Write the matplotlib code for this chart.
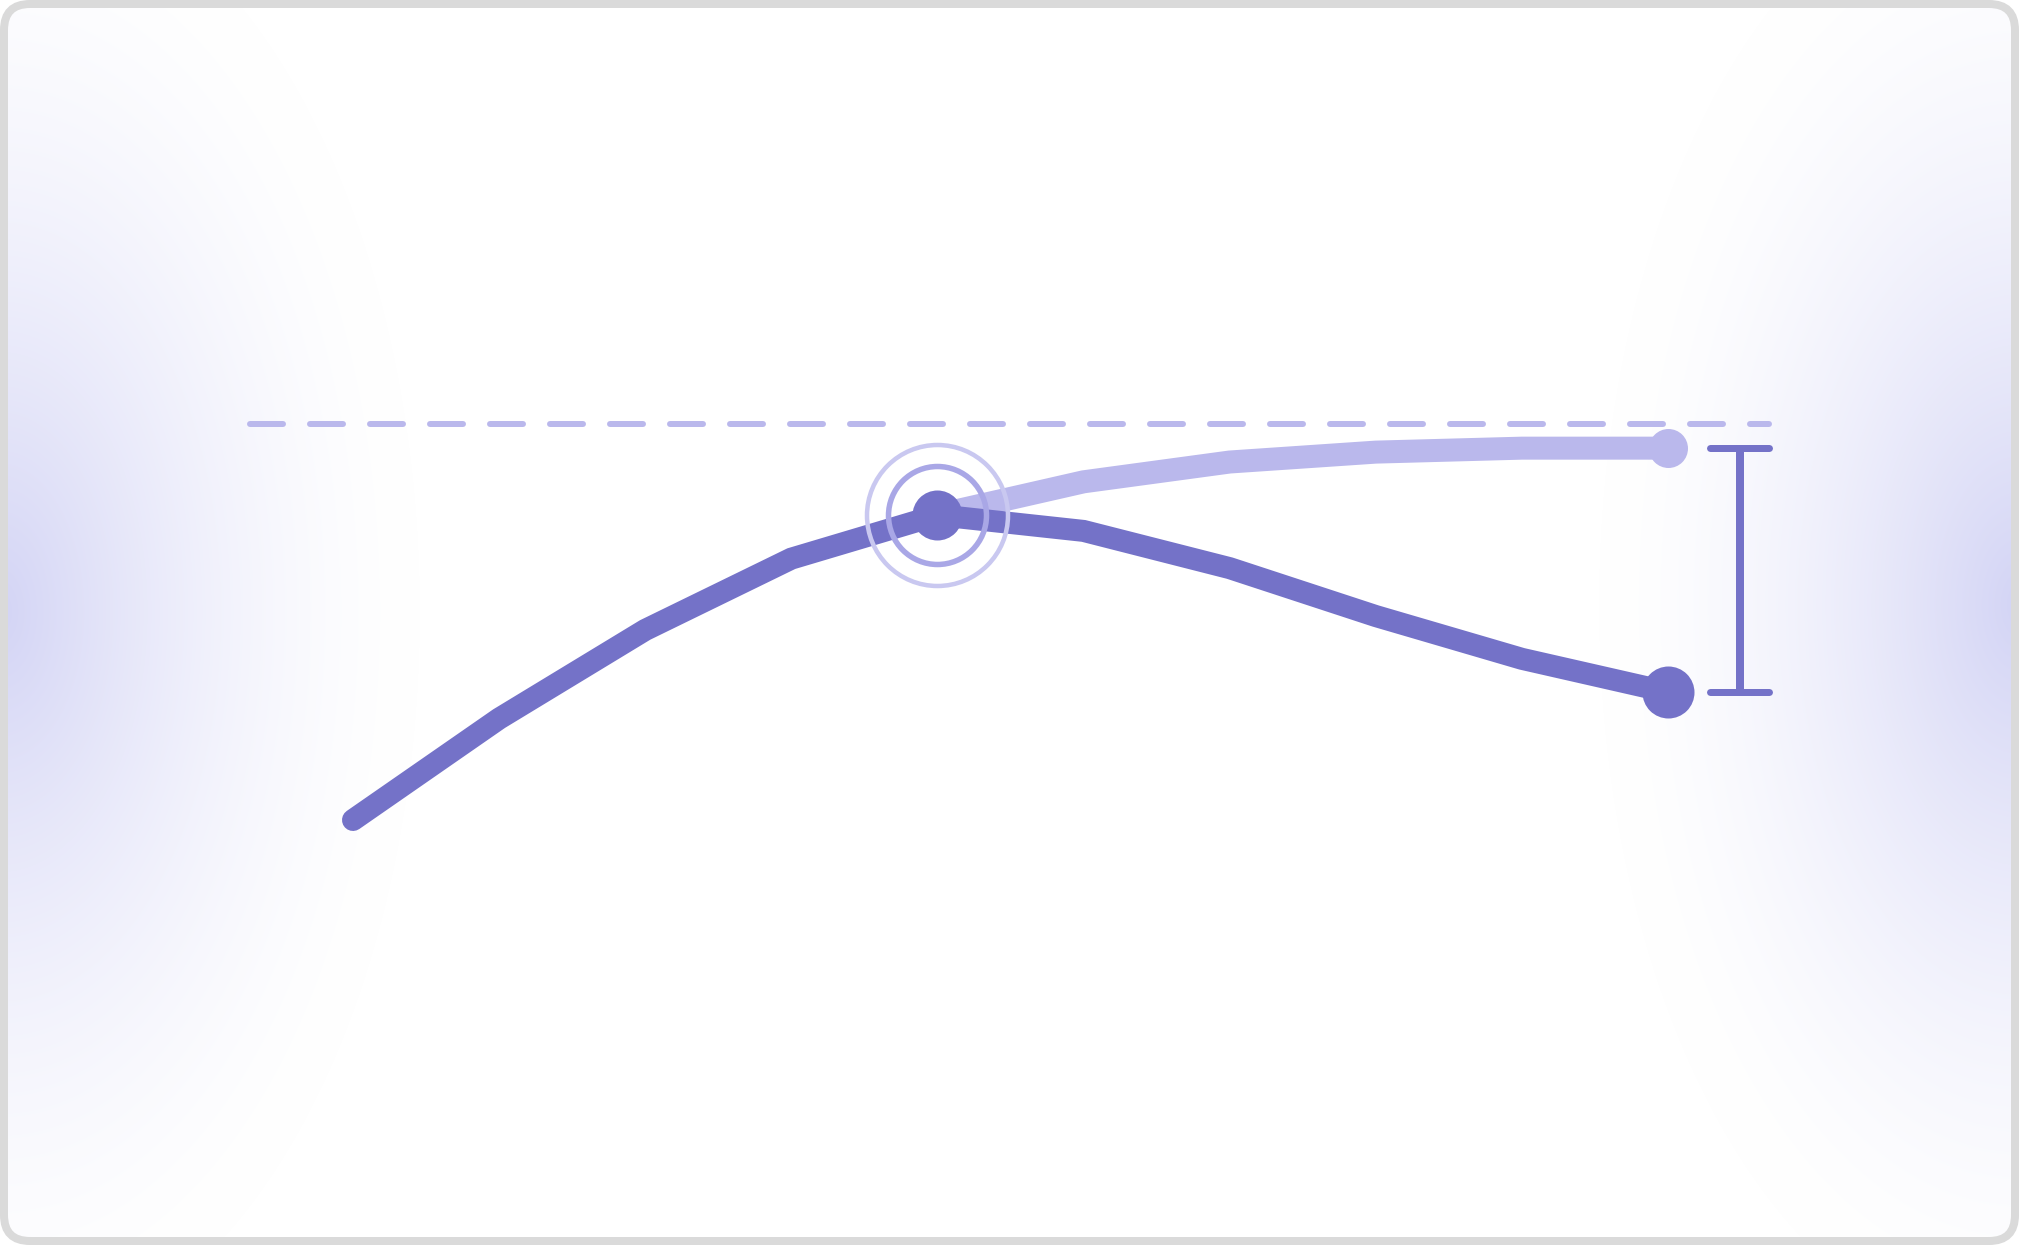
import numpy as np
import matplotlib
matplotlib.use("Agg")
import matplotlib.pyplot as plt
from matplotlib.patches import FancyBboxPatch

# ---------------- data ----------------
periods = list(range(10))                       # time steps
actual = [0.0, 25.6, 48.0, 66.0, 77.0, 73.0, 63.6, 51.5, 40.7, 32.3]
proj_periods = [4, 5, 6, 7, 8, 9]
projected = [77.0, 85.4, 90.4, 92.9, 93.9, 93.9]
target = 100.0
peak_index = 4
gap_x = 9.49

# ---------------- styling ----------------
DARK = "#7472C8"
LIGHT = "#BAB8EC"
RING_IN = "#A9A7E6"
RING_OUT = "#C9C8F0"
BORDER = "#DADADA"

W, H = 2019, 1245
DPI = 100
fig = plt.figure(figsize=(W / DPI, H / DPI), dpi=DPI)
fig.patch.set_facecolor("white")

# background glow
bg = fig.add_axes([0, 0, 1, 1])
bg.set_xlim(0, W)
bg.set_ylim(H, 0)
bg.axis("off")
yy, xx = np.mgrid[0:H, 0:W] + 0.5
rx, ry, p = 420.0, 740.0, 1.6
dL = np.sqrt((xx / rx) ** 2 + ((yy - 612) / ry) ** 2)
dR = np.sqrt(((W - xx) / rx) ** 2 + ((yy - 605) / ry) ** 2)
aL = np.clip(1 - dL, 0, 1) ** p
aR = np.clip(1 - dR, 0, 1) ** p
a = 1 - (1 - aL) * (1 - aR)
peak = np.array([211, 212, 245]) / 255.0
img = np.ones((H, W, 3)) * (1 - a[..., None]) + peak * a[..., None]
im = bg.imshow(img, extent=(0, W, H, 0), interpolation="bilinear", zorder=0)
clip = FancyBboxPatch((4, 4), W - 8, H - 8,
                      boxstyle="round,pad=0,rounding_size=26",
                      transform=bg.transData, facecolor="none", edgecolor="none")
bg.add_patch(clip)
im.set_clip_path(clip)
border = FancyBboxPatch((4, 4), W - 8, H - 8,
                        boxstyle="round,pad=0,rounding_size=26",
                        facecolor="none", edgecolor=BORDER, linewidth=8 * 0.72,
                        zorder=5)
bg.add_patch(border)

# main axes mapped so data fits the layout
ax = fig.add_axes([0, 0, 1, 1])
ax.patch.set_alpha(0)
x0_px, dx_px = 353.0, 146.11
y0_px, dy_px = 820.0, 3.96
ax.set_xlim(-x0_px / dx_px, (W - x0_px) / dx_px)
ax.set_ylim((y0_px - H) / dy_px, y0_px / dy_px)
ax.axis("off")

# target dashed line
ax.plot([(250 - x0_px) / dx_px, (1769 - x0_px) / dx_px], [target, target],
        color=LIGHT, lw=6 * 0.72, dashes=(5.5, 4.5), dash_capstyle="round",
        solid_capstyle="round", zorder=2)

# projected line
ax.plot(proj_periods, projected, color=LIGHT, lw=23 * 0.72,
        solid_capstyle="butt", solid_joinstyle="miter", zorder=3)
ax.plot(proj_periods[-1], projected[-1], "o", color=LIGHT, ms=39 * 0.72,
        mew=0, zorder=3)

# actual line
ax.plot(periods, actual, color=DARK, lw=22 * 0.72,
        solid_capstyle="round", solid_joinstyle="miter", zorder=4)
ax.plot(periods[-1], actual[-1], "o", color=DARK, ms=52 * 0.72, mew=0, zorder=4)

# peak highlight rings
ax.plot(periods[peak_index], actual[peak_index], "o", ms=141 * 0.72,
        mfc="none", mec=RING_OUT, mew=4.5 * 0.72, zorder=6)
ax.plot(periods[peak_index], actual[peak_index], "o", ms=98 * 0.72,
        mfc="none", mec=RING_IN, mew=5.5 * 0.72, zorder=6)
ax.plot(periods[peak_index], actual[peak_index], "o", ms=50 * 0.72,
        color=DARK, mew=0, zorder=7)

# gap bracket
cap = 29.5 / dx_px
ax.plot([gap_x, gap_x], [actual[-1], projected[-1]], color=DARK,
        lw=8 * 0.72, solid_capstyle="butt", zorder=4)
for yv in (actual[-1], projected[-1]):
    ax.plot([gap_x - cap, gap_x + cap], [yv, yv], color=DARK, lw=7 * 0.72,
            solid_capstyle="round", zorder=4)

fig.savefig("out.png", dpi=DPI, facecolor="white")
